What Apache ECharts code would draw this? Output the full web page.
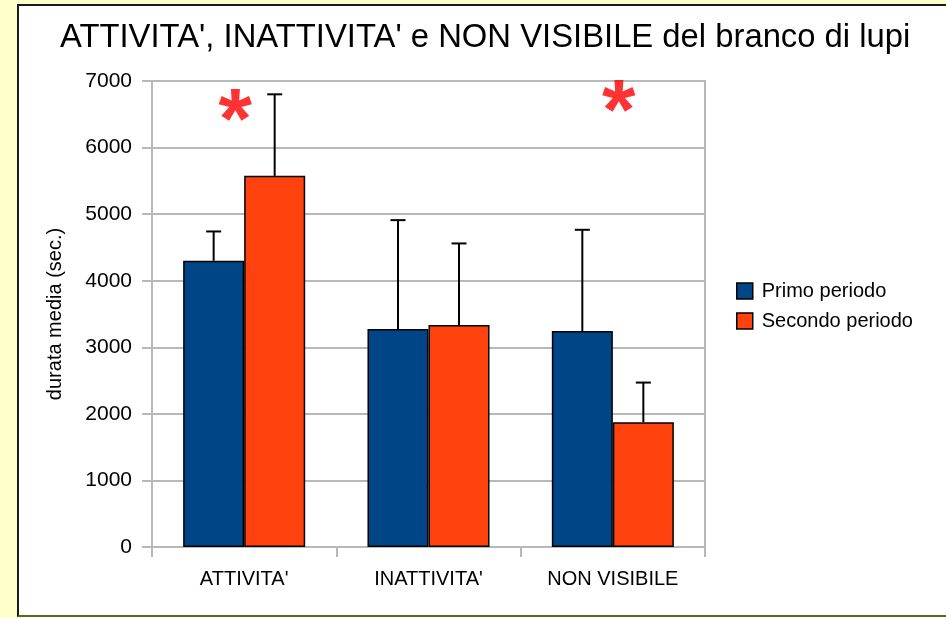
<!DOCTYPE html>
<html>
<head>
<meta charset="utf-8">
<script src="https://cdn.jsdelivr.net/npm/echarts@6/dist/echarts.min.js"></script>
<style>
    body{margin:0;background:#ffffcc;width:946px;height:618px;overflow:hidden;position:relative}
    .frame{position:absolute;left:17px;top:4px;width:940px;height:609px;background:#fff;
        border-left:2px solid #1a1a1a;border-top:2px solid #1a1a1a;border-bottom:2px solid #5b6530}
    #chart{position:absolute;left:0;top:0;width:946px;height:618px}
</style>
</head>
<body>
<div class="frame"></div>
<div id="chart"></div>
<script>
const titleText = "ATTIVITA', INATTIVITA' e NON VISIBILE del branco di lupi"
const categories = ["ATTIVITA'", "INATTIVITA'", "NON VISIBILE"]
const seriesNames = ["Primo periodo", "Secondo periodo"]
const primo = [4300, 3275, 3245]
const secondo = [5575, 3335, 1875]
// deviazione standard (solo barra superiore)
const primoSd = [440, 1635, 1520]
const secondoSd = [1225, 1225, 595]
// asterischi di significatività
const sigCats = [0, 2]
const sigLevel = [6650, 6780]
const yTicks = [0, 1000, 2000, 3000, 4000, 5000, 6000, 7000]

const font = "Liberation Sans, Arial, sans-serif"
const gridColor = "#b8b8b8"
const catGap = 0.338

const chartDom = document.getElementById("chart")
const myChart = echarts.init(chartDom)

const errSeries = (name, means, sds, side) => ({
    name,
    type: "custom",
    z: 5,
    data: means.map((m, i) => [i, m, m + sds[i]]),
    renderItem: (params, api) => {
        const idx = api.value(0)
        const base = api.coord([idx, api.value(1)])
        const top = api.coord([idx, api.value(2)])
        const band = api.size([1, 0])[0]
        const x = base[0] + side * band * (1 - catGap) / 4
        const style = {stroke: "#000", lineWidth: 2}
        return {
            type: "group",
            children: [
                {type: "line", shape: {x1: x, y1: base[1], x2: x, y2: top[1]}, style},
                {type: "line", shape: {x1: x - 7.5, y1: top[1], x2: x + 7.5, y2: top[1]}, style}
            ]
        }
    }
})

const barStyle = color => ({color, borderColor: "#000", borderWidth: 1.5})

const option = {
    animation: false,
    backgroundColor: "transparent",
    textStyle: {fontFamily: font},
    title: {
        text: titleText,
        left: 60,
        top: 21,
        padding: 0,
        textStyle: {fontFamily: font, fontSize: 32.8, fontWeight: "normal", color: "#000"}
    },
    legend: {
        data: seriesNames,
        orient: "vertical",
        left: 736,
        top: 281,
        padding: 0,
        itemWidth: 16,
        itemHeight: 16,
        itemGap: 10,
        icon: "rect",
        itemStyle: {borderColor: "#000", borderWidth: 1.5},
        textStyle: {fontFamily: font, fontSize: 20, color: "#000", padding: [0, 0, 0, 4]}
    },
    grid: {
        left: 152, right: 241, top: 81, bottom: 71,
        show: true, borderColor: gridColor, borderWidth: 2
    },
    xAxis: {
        type: "category",
        data: categories,
        axisLine: {lineStyle: {color: gridColor, width: 2}},
        axisTick: {show: true, length: 10, lineStyle: {color: gridColor, width: 2}},
        axisLabel: {fontFamily: font, fontSize: 20, color: "#000", margin: 22}
    },
    yAxis: {
        type: "value",
        min: yTicks[0],
        max: yTicks[yTicks.length - 1],
        interval: yTicks[1] - yTicks[0],
        name: "durata media (sec.)",
        nameLocation: "middle",
        nameGap: 87,
        nameTextStyle: {fontFamily: font, fontSize: 20, color: "#000"},
        axisLine: {show: true, lineStyle: {color: gridColor, width: 2}},
        axisTick: {show: true, length: 10, lineStyle: {color: gridColor, width: 2}},
        axisLabel: {fontFamily: font, fontSize: 21, color: "#000", margin: 20, formatter: v => String(v)},
        splitLine: {lineStyle: {color: gridColor, width: 2}}
    },
    series: [
        {name: seriesNames[0], type: "bar", data: primo, barGap: 0, barCategoryGap: (catGap * 100) + "%", itemStyle: barStyle("#004586")},
        {name: seriesNames[1], type: "bar", data: secondo, barGap: 0, barCategoryGap: (catGap * 100) + "%", itemStyle: barStyle("#ff420e")},
        errSeries("errPrimo", primo, primoSd, -1),
        errSeries("errSecondo", secondo, secondoSd, 1),
        {
            name: "sig",
            type: "scatter",
            z: 6,
            symbolSize: 1,
            itemStyle: {color: "transparent"},
            // spostamento orizzontale come nel grafico originale
            data: [
                {value: [sigCats[0], sigLevel[0]], label: {offset: [-9, 20]}},
                {value: [sigCats[1], sigLevel[1]], label: {offset: [6, 20]}}
            ],
            label: {
                show: true,
                position: "inside",
                formatter: "*",
                color: "#ff0000",
                fontFamily: font,
                fontWeight: "bold",
                fontSize: 86
            }
        }
    ]
}

myChart.setOption(option)
</script>
</body>
</html>
